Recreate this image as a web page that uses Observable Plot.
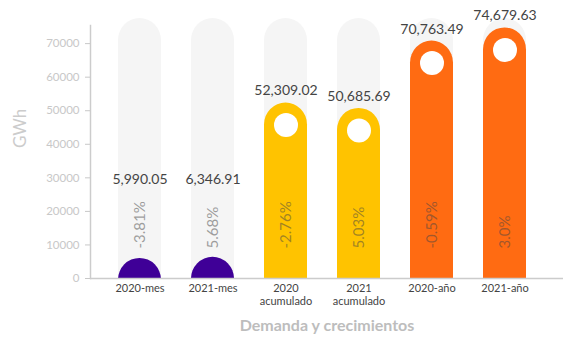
<!DOCTYPE html>
<html><head><meta charset="utf-8">
<script src="https://cdn.jsdelivr.net/npm/d3@7"></script>
<script src="https://cdn.jsdelivr.net/npm/@observablehq/plot@0.6"></script>
<style>body{margin:0;background:#fff;}</style>
</head><body><div id="chart"></div>
<script>
const categories = ["2020-mes", "2021-mes", "2020\nacumulado", "2021\nacumulado", "2020-año", "2021-año"];
const values = [5990.05, 6346.91, 52309.02, 50685.69, 70763.49, 74679.63];
const growth = ["-3.81%", "5.68%", "-2.76%", "5.03%", "-0.59%", "3.0%"];
const groups = ["mes", "mes", "acumulado", "acumulado", "año", "año"];
const groupColors = ["#3f0097", "#ffc300", "#ff6b12"];
const yTicks = [0, 10000, 20000, 30000, 40000, 50000, 60000, 70000];
const backgroundMax = 77450;
const yMax = 75400;

const data = categories.map((c, i) => ({cat: c, value: values[i], growth: growth[i], group: groups[i]}));
const fmt = d3.format(",.2f");

const chart = Plot.plot({
  width: 563, height: 350,
  marginLeft: 90, marginRight: 0, marginTop: 25, marginBottom: 72,
  style: {fontFamily: "Lato, sans-serif", background: "#fff"},
  x: {domain: categories, paddingInner: 0, paddingOuter: 0.196, align: 0.38, label: null},
  y: {domain: [0, yMax], label: null},
  color: {domain: ["mes", "acumulado", "año"], range: groupColors},
  marks: [
    Plot.barY(data, {x: "cat", y1: 0, y2: backgroundMax, fill: "#f5f5f5", rx: 22, insetLeft: 15, insetRight: 15}),
    Plot.barY(data, {x: "cat", y1: 0, y2: backgroundMax / 2, fill: "#f5f5f5", insetLeft: 15, insetRight: 15}),
    Plot.barY(data, {x: "cat", y1: 0, y2: "value", fill: "group", rx: 22, insetLeft: 15, insetRight: 15, insetBottom: -24, clip: true}),
    Plot.dot(data.filter(d => d.value > 20000), {x: "cat", y: "value", dy: 22, r: 12, fill: "white"}),
    Plot.text(data, {x: "cat", y: 0, dy: -30, rotate: -90, textAnchor: "start", text: "growth", fontSize: 15, fill: "#444", fillOpacity: 0.5}),
    Plot.text(data, {x: "cat", y: d => Math.max(d.value, 25800), dy: -12, text: d => fmt(d.value), fontSize: 14, fill: "#444"}),
    Plot.ruleY([0], {stroke: "#cccccc", strokeWidth: 1.5}),
    Plot.frame({anchor: "left", stroke: "#cccccc", strokeWidth: 1.5}),
    Plot.axisY({ticks: yTicks, tickSize: 5, tickPadding: 6, fontSize: 11.5, color: "#c8c8c8", label: null, tickFormat: d => String(d)}),
    Plot.axisX({tickSize: 0, tickPadding: 5, fontSize: 11, fill: "#444", lineHeight: 1.15, label: null}),
    Plot.text(["GWh"], {frameAnchor: "left", dx: -70, dy: -4, rotate: -90, text: d => d, fontSize: 17, fill: "#cccccc"}),
    Plot.text(["Demanda y crecimientos"], {frameAnchor: "bottom", dy: 52, text: d => d, fontSize: 16, fontWeight: "bold", fill: "#bdbdbd"})
  ]
});
document.getElementById("chart").appendChild(chart);
</script>
</body></html>
